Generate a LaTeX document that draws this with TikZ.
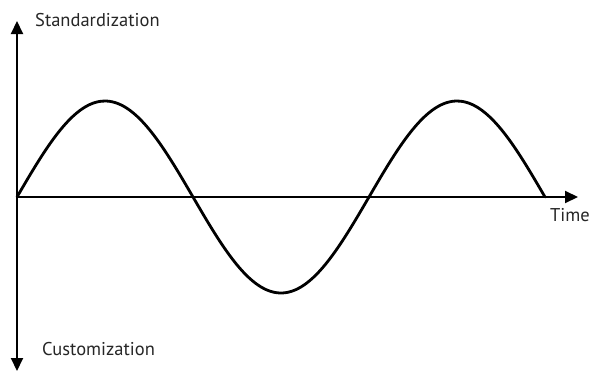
\documentclass[tikz,border=0pt]{standalone}
\usepackage{fontspec}
\setmainfont{PT Sans}
\usetikzlibrary{arrows.meta}
\tikzset{
  axis/.style={line width=2pt,-{Triangle[length=13pt,width=12pt]}},
  wave/.style={line width=2.8pt,line join=round,line cap=round},
  lbl/.style={font=\fontsize{18.5}{22}\selectfont,text=black!85,inner sep=0pt,anchor=base west}
}
\begin{document}
\begin{tikzpicture}[x=1pt,y=-1pt]
\useasboundingbox (0,0) rectangle (591,372);
\coordinate (o) at (17,197);
\coordinate (top) at (17,21);
\coordinate (bot) at (17,371);
\coordinate (right) at (578,197);
\draw[axis] (o) -- (top);
\draw[axis] (o) -- (bot);
\draw[axis] (o) -- (right);
\draw[wave] plot[domain=0:540,samples=120,smooth] ({17+\x/360*352},{197-96*sin(\x)});
\node[lbl] (std) at (35,27) {Standardization};
\node[lbl] (cus) at (42,355) {Customization};
\node[lbl,anchor=base east] (time) at (590,221) {Time};
\end{tikzpicture}
\end{document}
